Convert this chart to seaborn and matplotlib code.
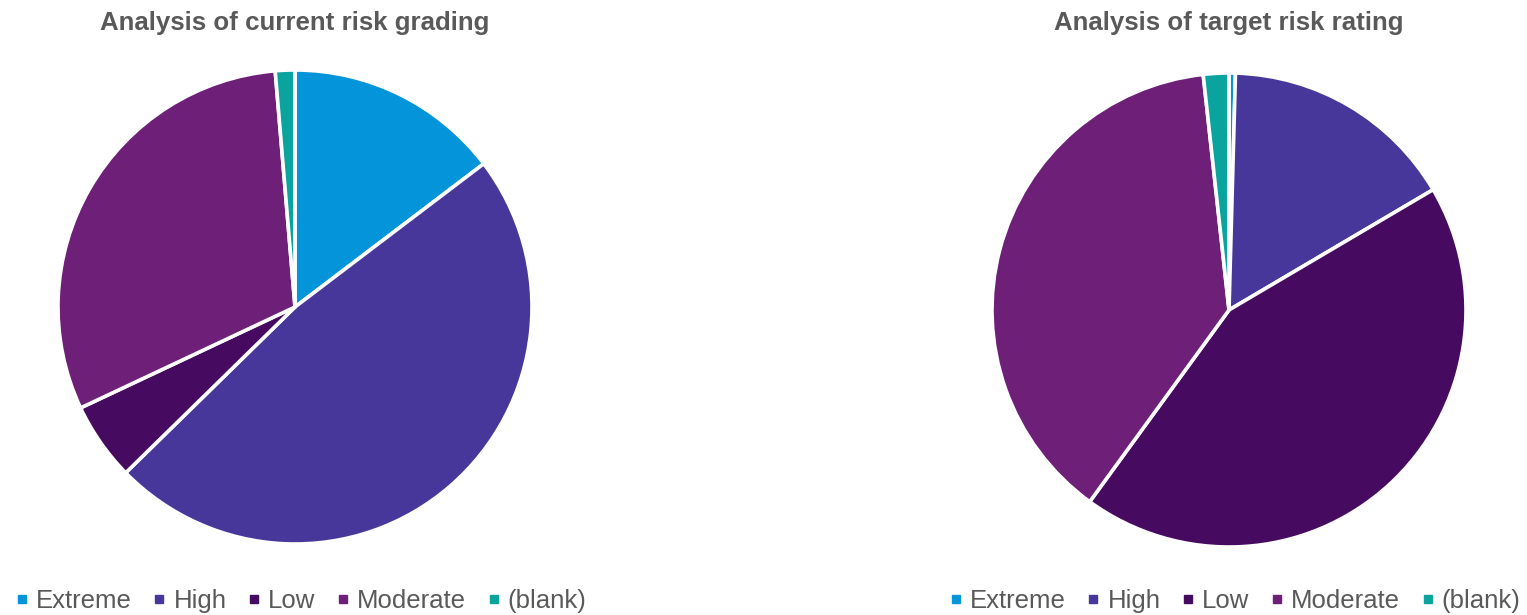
import matplotlib
matplotlib.use("Agg")
import matplotlib.pyplot as plt
from matplotlib.lines import Line2D
import seaborn as sns

categories = ["Extreme", "High", "Low", "Moderate", "(blank)"]
current_counts = [11, 36, 4, 23, 1]
target_counts = [1, 37, 100, 88, 4]
titles = ["Analysis of current risk grading", "Analysis of target risk rating"]
colors = ["#0394DA", "#48379A", "#470A61", "#6E1F78", "#0AA39D"]

sns.set_theme(style="white")
plt.rcParams["font.family"] = ["Liberation Sans", "DejaVu Sans"]
text_color = "#595959"

W, H = 1527, 615
fig = plt.figure(figsize=(W / 100, H / 100), dpi=100)

R = 237
centers = [(295, 307), (1229, 310)]
legend_cx = [301, 1235]

for (cx, cy), counts, title, lx in zip(centers, [current_counts, target_counts], titles, legend_cx):
    ax = fig.add_axes([(cx - R) / W, (H - cy - R) / H, 2 * R / W, 2 * R / H])
    ax.pie(counts, colors=colors, startangle=90, counterclock=False, radius=1,
           wedgeprops=dict(edgecolor="white", linewidth=2.6))
    ax.set_xlim(-1, 1)
    ax.set_ylim(-1, 1)
    ax.set_aspect("equal")
    ax.axis("off")
    fig.text(cx / W, 1 - 23 / H, title, ha="center", va="center",
             fontsize=18.6, fontweight="bold", color=text_color)
    handles = [Line2D([], [], marker="s", linestyle="none", markersize=6,
                      markerfacecolor=c, markeredgecolor=c) for c in colors]
    leg = fig.legend(handles, categories, loc="center", bbox_to_anchor=(lx / W, 1 - 601 / H),
                     ncol=5, frameon=False, fontsize=18.5, handlelength=0.5,
                     handletextpad=0.3, columnspacing=0.82, borderpad=0)
    for t in leg.get_texts():
        t.set_color(text_color)

fig.savefig("out.png", dpi=100, facecolor="white")
